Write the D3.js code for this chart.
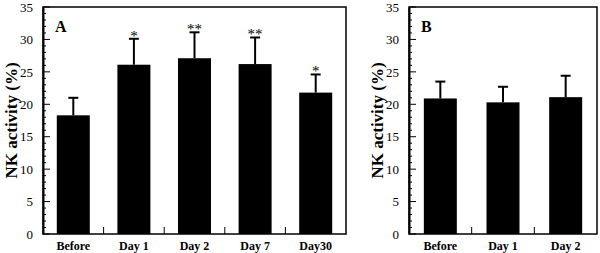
<!DOCTYPE html>
<meta charset="utf-8">
<style>
body { margin: 0; background: #fff; }
text { font-family: "Liberation Serif", "Times New Roman", serif; fill: #000; }
.tick text { font-size: 13px; }
.xlab { font-size: 12px; font-weight: bold; }
.ytitle { font-size: 17px; font-weight: bold; text-anchor: middle; }
.panel { font-size: 16px; font-weight: bold; }
</style>
<body>
<div id="chart"></div>
<script src="https://d3js.org/d3.v7.min.js"></script>
<script>

// panel A
var catsA = ["Before", "Day 1", "Day 2", "Day 7", "Day30"];
var meanA = [18.3, 26.1, 27.1, 26.2, 21.8];
var errA  = [2.7, 4.0, 4.0, 4.1, 2.8];
var starsA = ["", "*", "**", "**", "*"];

// panel B
var catsB = ["Before", "Day 1", "Day 2"];
var meanB = [20.9, 20.3, 21.1];
var errB  = [2.6, 2.4, 3.3];
var starsB = ["", "", ""];

var yTicks = [0, 5, 10, 15, 20, 25, 30, 35];

var svg = d3.select("#chart").append("svg")
  .attr("width", 600)
  .attr("height", 253);

var yScale = d3.scaleLinear().domain([0, 35]).range([234, 7]);

function drawPanel(opts) {
  var g = svg.append("g");
  var x = d3.scaleBand().domain(opts.cats).range([opts.left, opts.right]).paddingInner(0).paddingOuter(0);
  var bw = 33;
  var data = opts.cats.map(function(c, i) {
    return {cat: c, mean: opts.mean[i], err: opts.err[i], star: opts.stars[i]};
  });

  // frame
  g.append("rect")
    .attr("x", opts.left).attr("y", yScale(35))
    .attr("width", opts.right - opts.left).attr("height", yScale(0) - yScale(35))
    .attr("fill", "none").attr("stroke", "#000").attr("stroke-width", 1.5);

  // minor y ticks
  g.selectAll(".minor").data(d3.range(0, 36)).enter().append("line")
    .attr("x1", opts.left).attr("x2", function(d) { return opts.left + (d % 5 == 0 ? 7 : 3); })
    .attr("y1", d => yScale(d)).attr("y2", d => yScale(d))
    .attr("stroke", "#000").attr("stroke-width", 1);

  // y axis labels
  var yAxis = g.append("g")
    .attr("transform", "translate(" + opts.left + ",0)")
    .call(d3.axisLeft(yScale).tickValues(yTicks).tickSize(0).tickPadding(10));
  yAxis.select(".domain").attr("stroke", "#000").attr("stroke-width", 2);

  // x ticks between categories
  g.selectAll(".xtick").data(opts.cats.slice(1)).enter().append("line")
    .attr("x1", d => x(d)).attr("x2", d => x(d))
    .attr("y1", yScale(0)).attr("y2", yScale(0) - 7)
    .attr("stroke", "#000").attr("stroke-width", 1);

  // x labels
  g.selectAll(".xlab").data(opts.cats).enter().append("text")
    .attr("class", "xlab")
    .attr("x", d => x(d) + x.bandwidth() / 2)
    .attr("y", 250)
    .attr("text-anchor", "middle")
    .text(d => d);

  // error bars
  var eb = g.selectAll(".err").data(data).enter().append("g");
  eb.append("line")
    .attr("x1", d => x(d.cat) + x.bandwidth() / 2).attr("x2", d => x(d.cat) + x.bandwidth() / 2)
    .attr("y1", d => yScale(d.mean)).attr("y2", d => yScale(d.mean + d.err))
    .attr("stroke", "#000").attr("stroke-width", 2);
  eb.append("line")
    .attr("x1", d => x(d.cat) + x.bandwidth() / 2 - 5).attr("x2", d => x(d.cat) + x.bandwidth() / 2 + 5)
    .attr("y1", d => yScale(d.mean + d.err)).attr("y2", d => yScale(d.mean + d.err))
    .attr("stroke", "#000").attr("stroke-width", 2);

  // bars
  g.selectAll(".bar").data(data).enter().append("rect")
    .attr("x", d => x(d.cat) + (x.bandwidth() - bw) / 2)
    .attr("width", bw)
    .attr("y", d => yScale(d.mean))
    .attr("height", d => yScale(0) - yScale(d.mean))
    .attr("fill", "#000");

  // significance stars
  g.selectAll(".star").data(data).enter().append("text")
    .attr("x", d => x(d.cat) + x.bandwidth() / 2)
    .attr("y", d => yScale(d.mean + d.err) + 2)
    .attr("text-anchor", "middle")
    .style("font-size", "15px")
    .style("fill", "#000")
    .text(d => d.star);

  // panel letter
  g.append("text").attr("class", "panel")
    .attr("x", opts.left + 12).attr("y", 32)
    .text(opts.letter);

  // y title
  g.append("text").attr("class", "ytitle")
    .attr("transform", "translate(" + (opts.left - 26) + "," + ((yScale(0) + yScale(35)) / 2) + ") rotate(-90)")
    .text("NK activity (%)");
}

drawPanel({cats: catsA, mean: meanA, err: errA, stars: starsA, left: 43, right: 346, letter: "A"});
drawPanel({cats: catsB, mean: meanB, err: errB, stars: starsB, left: 409, right: 597, letter: "B"});

</script>
</body>
